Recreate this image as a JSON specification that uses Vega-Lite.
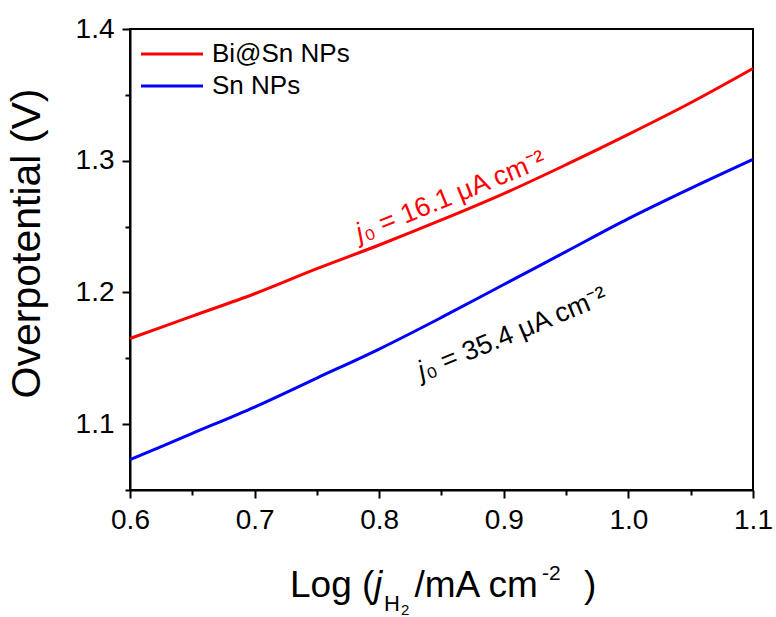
{
  "$schema": "https://vega.github.io/schema/vega-lite/v6.json",
  "width": 623,
  "height": 461,
  "autosize": {"type": "none"},
  "padding": {"left": 130, "top": 29, "right": 23, "bottom": 127},
  "background": "white",
  "config": {
    "font": "Liberation Sans",
    "view": {"stroke": "black", "strokeWidth": 2},
    "axis": {"labelFont": "Liberation Sans", "titleFont": "Liberation Sans", "grid": false, "domainColor": "black", "tickColor": "black", "labelColor": "black", "titleColor": "black"}
  },
  "data": {
    "values": [
      {"x": 0.6, "y": 1.165, "series": "Bi@Sn NPs"},
      {"x": 0.65, "y": 1.182, "series": "Bi@Sn NPs"},
      {"x": 0.7, "y": 1.199, "series": "Bi@Sn NPs"},
      {"x": 0.75, "y": 1.218, "series": "Bi@Sn NPs"},
      {"x": 0.8, "y": 1.236, "series": "Bi@Sn NPs"},
      {"x": 0.85, "y": 1.255, "series": "Bi@Sn NPs"},
      {"x": 0.9, "y": 1.275, "series": "Bi@Sn NPs"},
      {"x": 0.95, "y": 1.297, "series": "Bi@Sn NPs"},
      {"x": 1.0, "y": 1.32, "series": "Bi@Sn NPs"},
      {"x": 1.05, "y": 1.344, "series": "Bi@Sn NPs"},
      {"x": 1.1, "y": 1.37, "series": "Bi@Sn NPs"},
      {"x": 0.6, "y": 1.073, "series": "Sn NPs"},
      {"x": 0.65, "y": 1.093, "series": "Sn NPs"},
      {"x": 0.7, "y": 1.113, "series": "Sn NPs"},
      {"x": 0.75, "y": 1.135, "series": "Sn NPs"},
      {"x": 0.8, "y": 1.157, "series": "Sn NPs"},
      {"x": 0.85, "y": 1.181, "series": "Sn NPs"},
      {"x": 0.9, "y": 1.206, "series": "Sn NPs"},
      {"x": 0.95, "y": 1.231, "series": "Sn NPs"},
      {"x": 1.0, "y": 1.256, "series": "Sn NPs"},
      {"x": 1.05, "y": 1.279, "series": "Sn NPs"},
      {"x": 1.1, "y": 1.301, "series": "Sn NPs"}
    ]
  },
  "resolve": {"axis": {"x": "independent", "y": "independent"}},
  "layer": [
    {
      "mark": {"type": "line", "strokeWidth": 3, "interpolate": "monotone"},
      "encoding": {
        "x": {"field": "x", "type": "quantitative", "scale": {"domain": [0.6, 1.1], "nice": false, "zero": false},
          "axis": {"orient": "bottom", "values": [0.6, 0.7, 0.8, 0.9, 1.0, 1.1], "format": ".1f", "labelFontSize": 28, "tickSize": 8, "tickWidth": 2, "domainWidth": 2, "labelPadding": 8, "title": null, "labelFlush": false}},
        "y": {"field": "y", "type": "quantitative", "scale": {"domain": [1.05, 1.4], "nice": false, "zero": false},
          "axis": {"orient": "left", "values": [1.1, 1.2, 1.3, 1.4], "format": ".1f", "labelFontSize": 28, "tickSize": 8, "tickWidth": 2, "domainWidth": 2, "labelPadding": 8, "title": "Overpotential (V)", "titleFontSize": 41, "titleFontWeight": "normal", "titlePadding": 27, "titleY": 214, "labelFlush": false}},
        "color": {"field": "series", "type": "nominal", "scale": {"domain": ["Bi@Sn NPs", "Sn NPs"], "range": ["#ff0000", "#0000ff"]},
          "legend": {"orient": "none", "legendX": 25, "legendY": 8, "title": null, "symbolType": "M-2,0H2", "symbolSize": 961, "symbolStrokeWidth": 3, "labelFontSize": 26, "labelColor": "black", "rowPadding": 2, "labelOffset": 23}}
      }
    },
    {
      "mark": {"type": "line", "opacity": 0},
      "encoding": {
        "x": {"field": "x", "type": "quantitative",
          "axis": {"orient": "bottom", "values": [0.65, 0.75, 0.85, 0.95, 1.05], "labels": false, "tickSize": 5, "tickWidth": 2, "domain": false, "title": null}},
        "y": {"field": "y", "type": "quantitative",
          "axis": {"orient": "left", "values": [1.05, 1.15, 1.25, 1.35], "labels": false, "tickSize": 5, "tickWidth": 2, "domain": false, "title": null}}
      }
    },
    {
      "data": {"values": [{}]},
      "mark": {"type": "text", "fontSize": 37, "align": "left", "baseline": "alphabetic", "color": "black"},
      "encoding": {"x": {"datum": 0.7284, "type": "quantitative", "axis": null}, "y": {"datum": 0.9687, "type": "quantitative", "axis": null}, "text": {"value": "Log ("}}
    },
    {
      "data": {"values": [{}]},
      "mark": {"type": "text", "fontSize": 37, "fontStyle": "italic", "align": "left", "baseline": "alphabetic", "color": "black"},
      "encoding": {"x": {"datum": 0.7958, "type": "quantitative", "axis": null}, "y": {"datum": 0.9687, "type": "quantitative", "axis": null}, "text": {"value": "j"}}
    },
    {
      "data": {"values": [{}]},
      "mark": {"type": "text", "fontSize": 22, "align": "left", "baseline": "alphabetic", "color": "black"},
      "encoding": {"x": {"datum": 0.8039, "type": "quantitative", "axis": null}, "y": {"datum": 0.9585, "type": "quantitative", "axis": null}, "text": {"value": "H"}}
    },
    {
      "data": {"values": [{}]},
      "mark": {"type": "text", "fontSize": 15, "align": "left", "baseline": "alphabetic", "color": "black"},
      "encoding": {"x": {"datum": 0.8175, "type": "quantitative", "axis": null}, "y": {"datum": 0.9548, "type": "quantitative", "axis": null}, "text": {"value": "2"}}
    },
    {
      "data": {"values": [{}]},
      "mark": {"type": "text", "fontSize": 37, "align": "left", "baseline": "alphabetic", "color": "black"},
      "encoding": {"x": {"datum": 0.8283, "type": "quantitative", "axis": null}, "y": {"datum": 0.9687, "type": "quantitative", "axis": null}, "text": {"value": "/mA cm"}}
    },
    {
      "data": {"values": [{}]},
      "mark": {"type": "text", "fontSize": 21, "align": "left", "baseline": "alphabetic", "color": "black"},
      "encoding": {"x": {"datum": 0.9307, "type": "quantitative", "axis": null}, "y": {"datum": 0.9816, "type": "quantitative", "axis": null}, "text": {"value": "-2"}}
    },
    {
      "data": {"values": [{}]},
      "mark": {"type": "text", "fontSize": 37, "align": "left", "baseline": "alphabetic", "color": "black"},
      "encoding": {"x": {"datum": 0.9644, "type": "quantitative", "axis": null}, "y": {"datum": 0.9687, "type": "quantitative", "axis": null}, "text": {"value": ")"}}
    },
    {
      "data": {"values": [{}]},
      "mark": {"type": "text", "fontSize": 27, "fontStyle": "italic", "align": "left", "baseline": "alphabetic", "color": "#ff0000", "angle": -22},
      "encoding": {"x": {"datum": 0.7846, "type": "quantitative", "axis": null}, "y": {"datum": 1.2383, "type": "quantitative", "axis": null}, "text": {"value": "j"}}
    },
    {
      "data": {"values": [{}]},
      "mark": {"type": "text", "fontSize": 27, "align": "left", "baseline": "alphabetic", "color": "#ff0000", "angle": -22},
      "encoding": {"x": {"datum": 0.7894, "type": "quantitative", "axis": null}, "y": {"datum": 1.2401, "type": "quantitative", "axis": null}, "text": {"value": "₀ = 16.1 μA cm⁻²"}}
    },
    {
      "data": {"values": [{}]},
      "mark": {"type": "text", "fontSize": 27, "fontStyle": "italic", "align": "left", "baseline": "alphabetic", "color": "black", "angle": -22.5},
      "encoding": {"x": {"datum": 0.8343, "type": "quantitative", "axis": null}, "y": {"datum": 1.1335, "type": "quantitative", "axis": null}, "text": {"value": "j"}}
    },
    {
      "data": {"values": [{}]},
      "mark": {"type": "text", "fontSize": 27, "align": "left", "baseline": "alphabetic", "color": "black", "angle": -22.5},
      "encoding": {"x": {"datum": 0.8392, "type": "quantitative", "axis": null}, "y": {"datum": 1.1354, "type": "quantitative", "axis": null}, "text": {"value": "₀ = 35.4 μA cm⁻²"}}
    }
  ]
}
